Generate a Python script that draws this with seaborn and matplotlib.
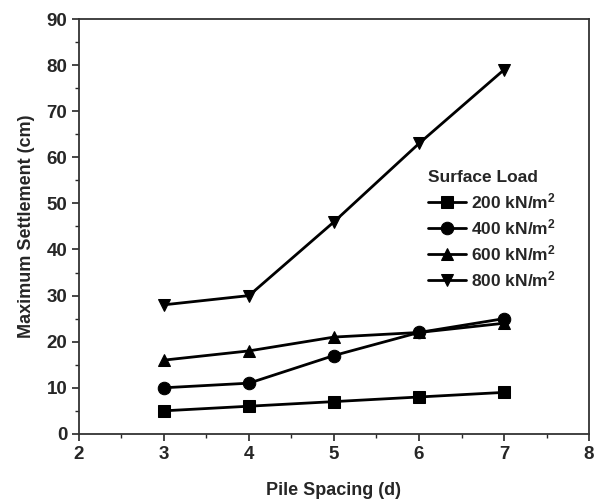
import matplotlib
matplotlib.use("Agg")
import matplotlib.pyplot as plt
import seaborn as sns
import pandas as pd
from matplotlib.ticker import MultipleLocator

spacing = [3, 4, 5, 6, 7]
s200 = [5, 6, 7, 8, 9]
s400 = [10, 11, 17, 22, 25]
s600 = [16, 18, 21, 22, 24]
s800 = [28, 30, 46, 63, 79]
labels = ["200 kN/m$^2$", "400 kN/m$^2$", "600 kN/m$^2$", "800 kN/m$^2$"]
markers = ["s", "o", "^", "v"]

rows = []
for lab, vals in zip(labels, [s200, s400, s600, s800]):
    for x, y in zip(spacing, vals):
        rows.append({"Pile Spacing": x, "Settlement": y, "Load": lab})
df = pd.DataFrame(rows)

sns.set_style("ticks")
plt.rcParams['font.family'] = ['Liberation Sans', 'DejaVu Sans']
plt.rcParams['font.weight'] = 'bold'
plt.rcParams['mathtext.default'] = 'regular'

fig = plt.figure(figsize=(5.98, 5.01), dpi=100)
ax = fig.add_axes([0.132, 0.134, 0.853, 0.828])

sns.lineplot(data=df, x="Pile Spacing", y="Settlement", hue="Load", style="Load",
             markers=dict(zip(labels, markers)), dashes=False,
             palette=["black"] * 4, hue_order=labels, style_order=labels,
             markersize=9, linewidth=2, markeredgecolor="black", ax=ax)

ax.set_xlim(2, 8)
ax.set_ylim(0, 90)
ax.xaxis.set_major_locator(MultipleLocator(1))
ax.xaxis.set_minor_locator(MultipleLocator(0.5))
ax.yaxis.set_major_locator(MultipleLocator(10))
ax.yaxis.set_minor_locator(MultipleLocator(5))
ax.tick_params(which='major', length=5, width=1.2, labelsize=13.5, direction='out')
ax.tick_params(which='minor', length=3, width=1.0, direction='out')
for lbl in ax.get_xticklabels() + ax.get_yticklabels():
    lbl.set_fontweight('bold')
for sp in ax.spines.values():
    sp.set_visible(True)
    sp.set_linewidth(1.3)
    sp.set_color('#333333')

ax.set_xlabel("Pile Spacing (d)", fontsize=13, fontweight='bold', labelpad=14)
ax.set_ylabel("Maximum Settlement (cm)", fontsize=13, fontweight='bold', labelpad=8)

leg = ax.legend(title="Surface Load", loc="upper left", bbox_to_anchor=(0.66, 0.665),
                frameon=False, fontsize=12.5, title_fontsize=12.5,
                handlelength=2.2, handletextpad=0.3, labelspacing=0.35, borderpad=0.2)
leg.get_title().set_fontweight('bold')
leg._legend_box.align = "left"
for t in leg.get_texts():
    t.set_fontweight('bold')

fig.savefig("out.png", dpi=100)
